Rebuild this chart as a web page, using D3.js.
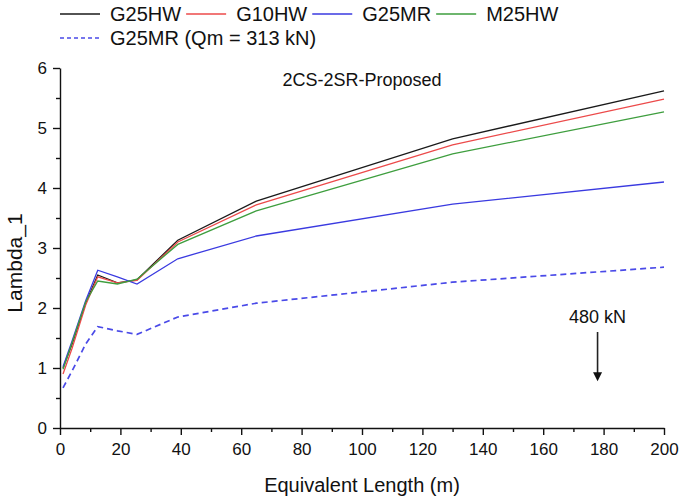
<html>
<head>
    <meta charset="utf-8">
    <script src="https://d3js.org/d3.v7.min.js"></script>
    <style>
        body { margin: 0; background: white; }
        text { font-family: "Liberation Sans", Arial, sans-serif; fill: #111; }
    </style>
</head>
<body>
<svg id="chart"></svg>
<script>
    // data
    const lengths = [1, 4, 8.5, 12.5, 19, 25.5, 39, 65, 130, 200];
    const g25hw = [1.0, 1.40, 2.08, 2.55, 2.42, 2.47, 3.13, 3.78, 4.82, 5.62];
    const g10hw = [0.90, 1.33, 2.05, 2.52, 2.42, 2.46, 3.10, 3.72, 4.72, 5.48];
    const g25mr = [1.02, 1.45, 2.12, 2.63, 2.52, 2.40, 2.82, 3.20, 3.73, 4.10];
    const m25hw = [0.98, 1.42, 2.10, 2.45, 2.40, 2.48, 3.06, 3.62, 4.57, 5.27];
    const g25mrQm = [0.67, 0.95, 1.40, 1.69, 1.62, 1.56, 1.85, 2.08, 2.43, 2.68];

    const seriesNames = ["G25HW", "G10HW", "G25MR", "M25HW", "G25MR (Qm = 313 kN)"];
    const xTicks = [0, 20, 40, 60, 80, 100, 120, 140, 160, 180, 200];
    const yTicks = [0, 1, 2, 3, 4, 5, 6];

    const chartTitle = "2CS-2SR-Proposed";
    const arrowX = 178;          // equivalent length the arrow points at
    const arrowLabel = "480 kN";

    const series = [
        {name: seriesNames[0], values: g25hw, color: "#1a1a1a", dash: null},
        {name: seriesNames[1], values: g10hw, color: "#ec4a4a", dash: null},
        {name: seriesNames[2], values: g25mr, color: "#3a3ae0", dash: null},
        {name: seriesNames[3], values: m25hw, color: "#3e9e3e", dash: null},
        {name: seriesNames[4], values: g25mrQm, color: "#4a4ae8", dash: "6,4"}
    ];

    const width = 682, height = 504;
    const margin = {left: 60, right: 18, top: 68, bottom: 76};

    const svg = d3.select("svg#chart")
        .attr("width", width)
        .attr("height", height);

    const x = d3.scaleLinear().domain([0, 200]).range([margin.left, width - margin.right]);
    const y = d3.scaleLinear().domain([0, 6]).range([height - margin.bottom, margin.top]);

    // minor ticks first, then major axes
    svg.append("g")
        .attr("transform", `translate(0,${y(0)})`)
        .call(d3.axisBottom(x).tickValues(d3.range(10, 200, 20)).tickSize(4).tickFormat(""))
        .call(g => g.select(".domain").remove());
    svg.append("g")
        .attr("transform", `translate(${x(0)},0)`)
        .call(d3.axisLeft(y).tickValues(d3.range(0.5, 6, 1)).tickSize(4).tickFormat(""))
        .call(g => g.select(".domain").remove());

    const xAxis = svg.append("g")
        .attr("transform", `translate(0,${y(0)})`)
        .call(d3.axisBottom(x).tickValues(xTicks).tickSize(7).tickSizeOuter(0).tickPadding(8));
    const yAxis = svg.append("g")
        .attr("transform", `translate(${x(0)},0)`)
        .call(d3.axisLeft(y).tickValues(yTicks).tickFormat(d3.format("d"))
            .tickSize(7).tickSizeOuter(0).tickPadding(6));

    svg.selectAll(".tick line, .domain").attr("stroke", "#111").attr("stroke-width", 1.4);
    svg.selectAll(".tick text")
        .style("font-family", "'Liberation Sans', Arial, sans-serif")
        .style("font-size", "17px")
        .attr("fill", "#111");

    // lines
    const line = d3.line()
        .x((d, i) => x(lengths[i]))
        .y(d => y(d));

    svg.selectAll("path.series").data(series)
        .join("path")
        .attr("class", "series")
        .attr("d", d => line(d.values))
        .attr("fill", "none")
        .attr("stroke", d => d.color)
        .attr("stroke-width", d => d.dash ? 1.7 : 1.3)
        .attr("stroke-dasharray", d => d.dash);

    // axis titles
    svg.append("text")
        .attr("x", (x(0) + x(200)) / 2)
        .attr("y", 492)
        .attr("text-anchor", "middle")
        .style("font-size", "20px")
        .text("Equivalent Length (m)");

    svg.append("text")
        .attr("transform", `translate(22,${y(2.75)}) rotate(-90)`)
        .attr("text-anchor", "middle")
        .style("font-size", "21px")
        .text("Lambda_1");

    svg.append("text")
        .attr("x", 362)
        .attr("y", 86)
        .attr("text-anchor", "middle")
        .style("font-size", "18px")
        .text(chartTitle);

    // arrow annotation
    svg.append("text")
        .attr("x", x(arrowX))
        .attr("y", y(1.75))
        .attr("text-anchor", "middle")
        .style("font-size", "18px")
        .text(arrowLabel);
    svg.append("line")
        .attr("x1", x(arrowX)).attr("x2", x(arrowX))
        .attr("y1", y(1.6)).attr("y2", y(0.9))
        .attr("stroke", "#222").attr("stroke-width", 1.6);
    svg.append("path")
        .attr("d", `M${x(arrowX) - 4.5},${y(0.93)} L${x(arrowX) + 4.5},${y(0.93)} L${x(arrowX)},${y(0.78)} Z`)
        .attr("fill", "#111");

    // legend: four on the first row, the dashed one below
    const legend = svg.append("g");
    let lx = 60;
    series.forEach((s, i) => {
        const row = i < 4 ? 0 : 1;
        if (row === 1) lx = 60;
        const ly = row === 0 ? 14 : 38;
        legend.append("line")
            .attr("x1", lx).attr("x2", lx + 40)
            .attr("y1", ly).attr("y2", ly)
            .attr("stroke", s.color)
            .attr("stroke-width", 1.3)
            .attr("stroke-dasharray", s.dash ? "4,3" : null);
        const t = legend.append("text")
            .attr("x", lx + 50)
            .attr("y", ly + 7)
            .style("font-size", "20px")
            .text(s.name);
        lx = lx + 50 + t.node().getComputedTextLength() + 5;
    });
</script>
</body>
</html>
